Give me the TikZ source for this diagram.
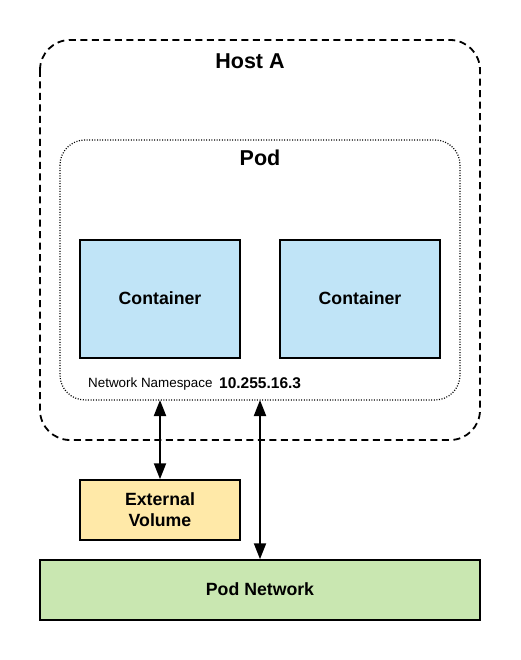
\documentclass[tikz,border=0pt]{standalone}
\usepackage{fontspec}
\setmainfont{Liberation Sans}
\usetikzlibrary{arrows.meta}
\definecolor{contblue}{HTML}{C0E4F7}
\definecolor{volyellow}{HTML}{FFE9A8}
\definecolor{netgreen}{HTML}{C9E7B1}
\begin{document}
\begin{tikzpicture}[x=1pt,y=-1pt,
  hostbox/.style={draw, line width=1.8pt, dash pattern=on 7pt off 4.5pt, rounded corners=30pt},
  podbox/.style={draw, line width=1.2pt, dash pattern=on 1pt off 1.6pt, rounded corners=25pt},
  plainbox/.style={draw, line width=1.5pt},
  lbl/.style={font=\bfseries\fontsize{17.7}{21}\selectfont, align=center},
  biarrow/.style={line width=2pt, {Triangle[length=16pt,width=12pt]}-{Triangle[length=16pt,width=12pt]}}
]
\useasboundingbox (0,0) rectangle (520,660);
\draw[hostbox] (40,40) rectangle (480,440);
\node[font=\bfseries\fontsize{21.5}{24}\selectfont] (hostlbl) at (250,61) {Host A};
\draw[podbox] (60,140) rectangle (460,400);
\node[font=\bfseries\fontsize{21.5}{24}\selectfont] (podlbl) at (260,158) {Pod};
\node[plainbox, fill=contblue, minimum width=160pt, minimum height=118pt, lbl] (c1) at (160,299) {\raisebox{2pt}{Container}};
\node[plainbox, fill=contblue, minimum width=160pt, minimum height=118pt, lbl] (c2) at (360,299) {\raisebox{2pt}{Container}};
\node[font=\fontsize{13.4}{15}\selectfont, anchor=west, inner sep=0pt] (ns) at (88,384) {Network Namespace};
\node[font=\bfseries\fontsize{15.5}{17}\selectfont, anchor=west, inner sep=0pt] (ip) at (219,383) {10.255.16.3};
\node[plainbox, fill=volyellow, minimum width=160pt, minimum height=60pt, lbl] (vol) at (160,510) {External\\Volume};
\node[plainbox, fill=netgreen, minimum width=440pt, minimum height=60pt, lbl] (net) at (260,590) {\raisebox{2pt}{Pod Network}};
\coordinate (podbot1) at (160,400);
\coordinate (podbot2) at (260,400);
\draw[biarrow] (podbot1) -- (vol.north);
\draw[biarrow] (podbot2) -- (net.north -| podbot2);
\end{tikzpicture}
\end{document}
